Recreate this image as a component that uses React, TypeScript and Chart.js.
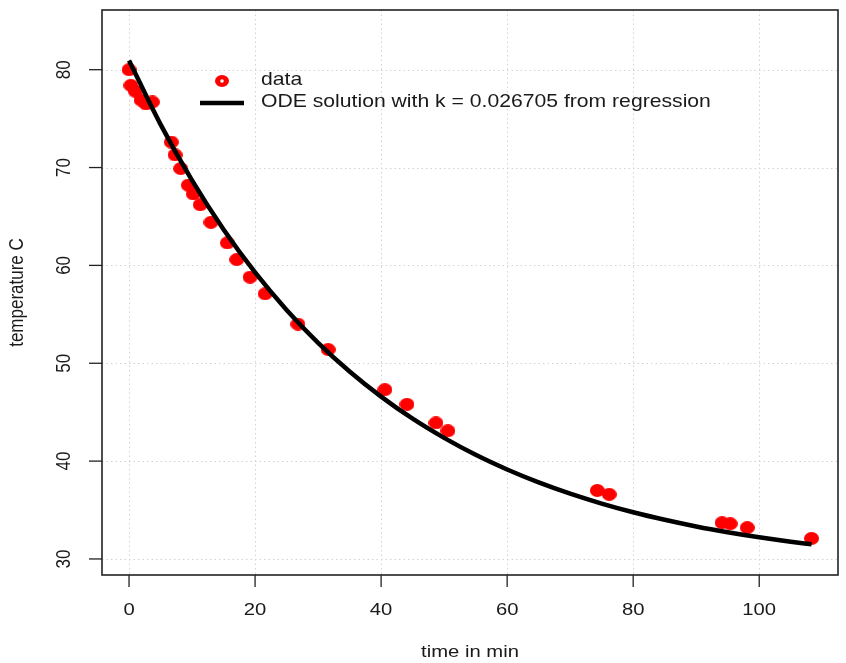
import React, { useEffect, useRef } from "react";
import { Chart, registerables } from "chart.js";

Chart.register(...registerables);

// ---- data ----
const timeMin = [0, 0.3, 1.0, 1.9, 2.7, 3.7, 6.7, 7.3, 8.2, 9.4, 10.2, 11.3, 13.0, 15.6, 17.1, 19.2, 21.6, 26.8, 31.6, 40.6, 44.1, 48.7, 50.6, 74.3, 76.2, 94.1, 95.4, 98.1, 108.3];
const tempC = [80.0, 78.4, 77.8, 76.9, 76.5, 76.7, 72.6, 71.3, 69.9, 68.2, 67.3, 66.2, 64.4, 62.3, 60.6, 58.8, 57.1, 54.0, 51.4, 47.3, 45.8, 43.9, 43.1, 37.0, 36.6, 33.7, 33.6, 33.2, 32.1];

const curveTime = [0, 5, 10, 15, 20, 25, 30, 35, 40, 45, 50, 55, 60, 65, 70, 75, 80, 85, 90, 95, 100, 105, 108.3];
const curveTemp = [80.95, 74.41, 68.68, 63.67, 59.28, 55.45, 52.09, 49.16, 46.59, 44.33, 42.37, 40.64, 39.14, 37.82, 36.67, 35.66, 34.77, 34.0, 33.32, 32.73, 32.21, 31.76, 31.5];

const xTicks = [0, 20, 40, 60, 80, 100];
const yTicks = [30, 40, 50, 60, 70, 80];

const dataLabel = "data";
const curveLabel = "ODE solution with k = 0.026705 from regression";
const xTitle = "time in min";
const yTitle = "temperature C";

const FONT = '17px "Liberation Sans", Arial, sans-serif';
const LEGEND_FONT = '17.8px "Liberation Sans", Arial, sans-serif';
const SX = 1.19; // horizontal stretch of the reference
const TEXT_COLOR = "#1a1a1a";

function drawText(
  ctx: CanvasRenderingContext2D,
  text: string,
  x: number,
  y: number,
  align: CanvasTextAlign,
  rotated = false,
  font = FONT
) {
  ctx.save();
  ctx.translate(x, y);
  ctx.scale(SX, 1);
  if (rotated) ctx.rotate(-Math.PI / 2);
  ctx.font = font;
  ctx.fillStyle = TEXT_COLOR;
  ctx.textAlign = align;
  ctx.textBaseline = "middle";
  ctx.fillText(text, 0, 0);
  ctx.restore();
}

function makeDot(): HTMLCanvasElement {
  const c = document.createElement("canvas");
  c.width = 15;
  c.height = 13;
  const g = c.getContext("2d")!;
  g.fillStyle = "#ff0000";
  g.beginPath();
  g.ellipse(7.5, 6.5, 7.5, 6.5, 0, 0, Math.PI * 2);
  g.fill();
  return c;
}

const decorPlugin = {
  id: "rDecor",
  beforeDatasetsDraw(chart: any) {
    const { ctx, chartArea: a, scales } = chart;
    const xs = scales.x;
    const ys = scales.y;
    ctx.save();
    ctx.strokeStyle = "#d3d3d3";
    ctx.lineWidth = 1;
    ctx.setLineDash([1.5, 3]);
    xTicks.forEach((v) => {
      const px = Math.round(xs.getPixelForValue(v)) + 0.5;
      ctx.beginPath();
      ctx.moveTo(px, a.top);
      ctx.lineTo(px, a.bottom);
      ctx.stroke();
    });
    yTicks.forEach((v) => {
      const py = Math.round(ys.getPixelForValue(v)) + 0.5;
      ctx.beginPath();
      ctx.moveTo(a.left, py);
      ctx.lineTo(a.right, py);
      ctx.stroke();
    });
    ctx.restore();
  },
  afterDatasetsDraw(chart: any) {
    const { ctx, chartArea: a, scales } = chart;
    const xs = scales.x;
    const ys = scales.y;
    ctx.save();
    // box
    ctx.strokeStyle = "#222";
    ctx.lineWidth = 1.6;
    ctx.strokeRect(a.left, a.top, a.right - a.left, a.bottom - a.top);
    // ticks
    ctx.lineWidth = 1.3;
    xTicks.forEach((v) => {
      const px = xs.getPixelForValue(v);
      ctx.beginPath();
      ctx.moveTo(px, a.bottom);
      ctx.lineTo(px, a.bottom + 12);
      ctx.stroke();
      drawText(ctx, String(v), px, a.bottom + 35, "center");
    });
    yTicks.forEach((v) => {
      const py = ys.getPixelForValue(v);
      ctx.beginPath();
      ctx.moveTo(a.left, py);
      ctx.lineTo(a.left - 13, py);
      ctx.stroke();
      drawText(ctx, String(v), a.left - 38, py, "center", true);
    });
    // titles
    drawText(ctx, xTitle, (a.left + a.right) / 2, a.bottom + 77, "center");
    drawText(ctx, yTitle, 17, (a.top + a.bottom) / 2, "center", true);

    // legend
    ctx.fillStyle = "#ff0000";
    ctx.beginPath();
    ctx.ellipse(222, 81, 7, 6, 0, 0, Math.PI * 2);
    ctx.fill();
    ctx.fillStyle = "#ffffff";
    ctx.beginPath();
    ctx.arc(222, 81, 1.8, 0, Math.PI * 2);
    ctx.fill();
    ctx.strokeStyle = "#000";
    ctx.lineWidth = 4.5;
    ctx.beginPath();
    ctx.moveTo(200, 103);
    ctx.lineTo(244, 103);
    ctx.stroke();
    drawText(ctx, dataLabel, 261, 80, "left", false, LEGEND_FONT);
    drawText(ctx, curveLabel, 261, 102, "left", false, LEGEND_FONT);
    ctx.restore();
  },
};

export default function App() {
  const ref = useRef<HTMLCanvasElement | null>(null);

  useEffect(() => {
    document.body.style.margin = "0";
    const canvas = ref.current;
    if (!canvas) return;
    const dot = makeDot();
    const chart = new Chart(canvas, {
      type: "scatter",
      data: {
        datasets: [
          {
            type: "line",
            label: curveLabel,
            data: curveTime.map((t, i) => ({ x: t, y: curveTemp[i] })),
            showLine: true,
            borderColor: "#000000",
            borderWidth: 4.5,
            pointRadius: 0,
            cubicInterpolationMode: "monotone",
            fill: false,
            order: 0,
          } as any,
          {
            type: "scatter",
            label: dataLabel,
            data: timeMin.map((t, i) => ({ x: t, y: tempC[i] })),
            pointStyle: dot as any,
            backgroundColor: "#ff0000",
            borderColor: "#ff0000",
            pointRadius: 7,
            order: 1,
          } as any,
        ],
      },
      options: {
        animation: false,
        responsive: false,
        devicePixelRatio: 1,
        layout: { padding: { left: 102, top: 10, right: 8, bottom: 88 } },
        plugins: {
          legend: { display: false },
          tooltip: { enabled: false },
        },
        scales: {
          x: { type: "linear", min: -4.29, max: 112.5, display: false },
          y: { type: "linear", min: 28.36, max: 86.1, display: false },
        },
      },
      plugins: [decorPlugin],
    });
    return () => chart.destroy();
  }, []);

  return (
    <div style={{ width: 846, height: 663, background: "#fff" }}>
      <canvas ref={ref} width={846} height={663} style={{ display: "block" }} />
    </div>
  );
}
